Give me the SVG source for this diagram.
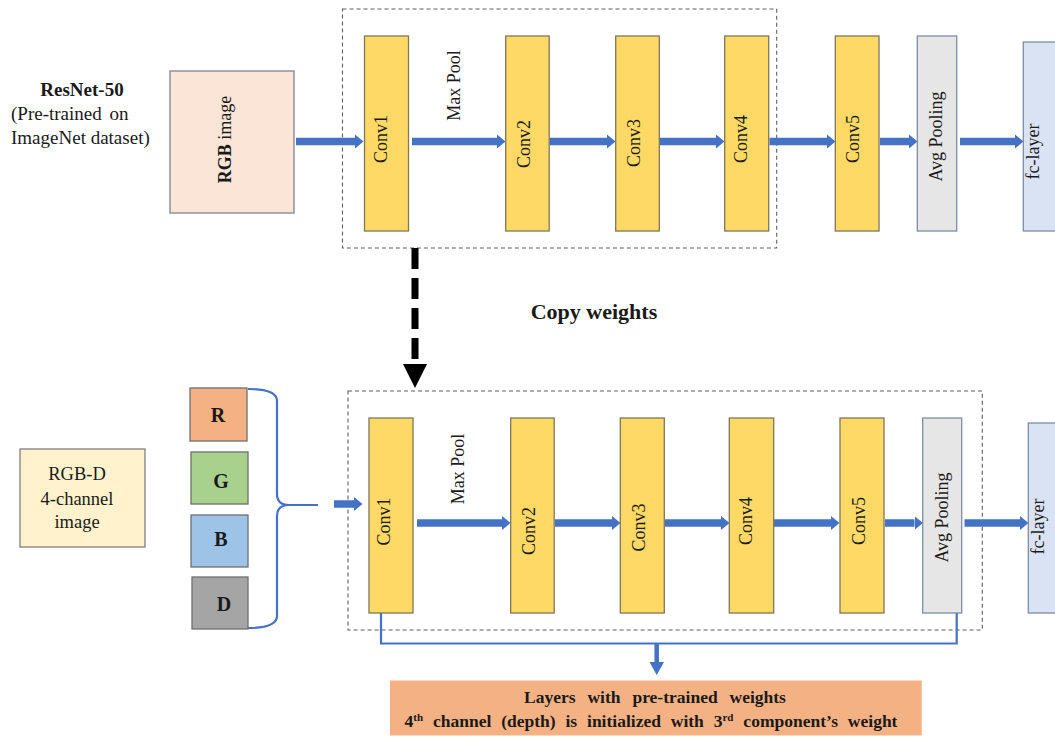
<svg xmlns="http://www.w3.org/2000/svg" width="1055" height="737" viewBox="0 0 1055 737">
<style>
text{font-family:"Liberation Serif","Times New Roman",serif;fill:#1a1a1a}
.lbl{font-size:18px;text-anchor:middle}
.b{font-weight:bold}
.conv{fill:#FFD966;stroke:#7E775A;stroke-width:1.3}
.avg{fill:#E7E6E6;stroke:#7F8CA6;stroke-width:1.3}
.fc{fill:#DAE3F3;stroke:#7F8CA6;stroke-width:1.3}
.grp{fill:none;stroke:#5F5F5F;stroke-width:1.1;stroke-dasharray:4 3}
.flow{stroke:#4472C4;stroke-width:7.5;fill:none;marker-end:url(#ah)}
.thin{stroke:#4472C4;stroke-width:2.2;fill:none}
.ch{stroke:#6F6F6F;stroke-width:1.3}
</style>
<defs>
<marker id="ah" markerUnits="userSpaceOnUse" markerWidth="9" markerHeight="15" refX="0" refY="7" orient="auto" viewBox="0 0 9 14">
<path d="M0,0 L8.5,7 L0,14 z" fill="#4472C4"/>
</marker>
</defs>

<!-- dashed group boxes -->
<rect id="group-top" class="grp" x="342.5" y="9" width="434.2" height="239"/>
<rect id="group-bottom" class="grp" x="348" y="391" width="634.3" height="239"/>

<!-- connectors -->
<g id="connectors">
  <line class="flow" x1="296" y1="141.5" x2="355" y2="141.5"/>
  <line class="flow" x1="412" y1="141.5" x2="497" y2="141.5"/>
  <line class="flow" x1="549.5" y1="141.5" x2="607" y2="141.5"/>
  <line class="flow" x1="660" y1="141.5" x2="716" y2="141.5"/>
  <line class="flow" x1="769.5" y1="141.5" x2="827" y2="141.5"/>
  <line class="flow" x1="880" y1="141.5" x2="909" y2="141.5"/>
  <line class="flow" x1="960" y1="141.5" x2="1015" y2="141.5"/>

  <line class="flow" x1="334" y1="504" x2="354" y2="504"/>
  <line class="flow" x1="417" y1="523" x2="502" y2="523"/>
  <line class="flow" x1="555" y1="523" x2="612" y2="523"/>
  <line class="flow" x1="665" y1="523" x2="721" y2="523"/>
  <line class="flow" x1="774" y1="523" x2="831" y2="523"/>
  <line class="flow" x1="885" y1="523" x2="914.5" y2="523"/>
  <line class="flow" x1="964.5" y1="523" x2="1020" y2="523"/>

  <!-- brace -->
  <path class="thin" stroke-width="2.6" d="M248,389 Q277,389 277,401 L277,494 Q277,505 289,505 Q277,505 277,516 L277,616 Q277,628 248,628 M289,505 L318,505"/>

  <!-- copy weights -->
  <line x1="415" y1="248" x2="415" y2="360" stroke="#000" stroke-width="7" stroke-dasharray="21 9"/>
  <polygon points="403,364 427,364 415,388" fill="#000"/>

  <!-- pretrained bracket -->
  <path class="thin" d="M381,613 L381,643.5 L956.7,643.5 L956.7,613"/>
  <line x1="656.7" y1="643.5" x2="656.7" y2="663" stroke="#4472C4" stroke-width="4.5"/>
  <polygon points="649.5,662 664,662 656.7,675" fill="#4472C4"/>
</g>

<!-- left labels -->
<g id="resnet-label">
  <text class="b" x="82" y="96" font-size="19" text-anchor="middle">ResNet-50</text>
  <text x="11" y="120" font-size="19" word-spacing="3">(Pre-trained on</text>
  <text x="11" y="144" font-size="19">ImageNet dataset)</text>
</g>

<g id="rgb-image">
  <rect x="170" y="71" width="124" height="142" fill="#FBE5D6" stroke="#7F8599" stroke-width="1.3"/>
  <text x="231" y="139.5" font-size="18" text-anchor="middle" transform="rotate(-90 231 139.5)"><tspan font-weight="bold">RGB</tspan> image</text>
</g>

<!-- top row -->
<g id="top-conv1"><rect class="conv" x="364.5" y="36" width="44" height="195"/><text class="lbl" x="387" y="139" transform="rotate(-90 387 139)">Conv1</text></g>
<g id="top-maxpool"><text class="lbl" x="460" y="85.5" transform="rotate(-90 460 85.5)">Max Pool</text></g>
<g id="top-conv2"><rect class="conv" x="505.7" y="36" width="43.5" height="195"/><text class="lbl" x="530" y="144" transform="rotate(-90 530 144)">Conv2</text></g>
<g id="top-conv3"><rect class="conv" x="615.7" y="36" width="43.6" height="195"/><text class="lbl" x="640" y="143" transform="rotate(-90 640 143)">Conv3</text></g>
<g id="top-conv4"><rect class="conv" x="724.7" y="36" width="44" height="195"/><text class="lbl" x="747" y="139" transform="rotate(-90 747 139)">Conv4</text></g>
<g id="top-conv5"><rect class="conv" x="835.3" y="36" width="43.7" height="195"/><text class="lbl" x="859" y="139" transform="rotate(-90 859 139)">Conv5</text></g>
<g id="top-avg"><rect class="avg" x="917.3" y="36" width="39.4" height="195"/><text class="lbl" x="942" y="136.5" fill="#333" transform="rotate(-90 942 136.5)">Avg Pooling</text></g>
<g id="top-fc"><rect class="fc" x="1023.3" y="42" width="44" height="189"/><text class="lbl" x="1039" y="151.5" transform="rotate(-90 1039 151.5)">fc-layer</text></g>

<g id="copy-weights-label"><text class="b" x="594" y="319" font-size="22" text-anchor="middle">Copy weights</text></g>

<!-- bottom left -->
<g id="rgbd-image">
  <rect x="20" y="449" width="125" height="98" fill="#FFF2CC" stroke="#7F7F7F" stroke-width="1.3"/>
  <text x="77" y="480" font-size="18.5" text-anchor="middle">RGB-D</text>
  <text x="77" y="505" font-size="18.5" text-anchor="middle">4-channel</text>
  <text x="77" y="528" font-size="18.5" text-anchor="middle">image</text>
</g>
<g id="ch-r"><rect class="ch" x="190" y="388" width="57" height="53" fill="#F4B183"/><text class="b" x="218" y="422" font-size="20" text-anchor="middle">R</text></g>
<g id="ch-g"><rect class="ch" x="191" y="452" width="57" height="52" fill="#A9D18E"/><text class="b" x="221" y="488" font-size="20" text-anchor="middle">G</text></g>
<g id="ch-b"><rect class="ch" x="191" y="515" width="57" height="52" fill="#9DC3E6"/><text class="b" x="221" y="546" font-size="20" text-anchor="middle">B</text></g>
<g id="ch-d"><rect class="ch" x="192" y="577" width="56" height="52" fill="#A5A5A5"/><text class="b" x="224" y="611" font-size="20" text-anchor="middle">D</text></g>

<!-- bottom row -->
<g id="bot-conv1"><rect class="conv" x="369" y="418" width="44" height="195"/><text class="lbl" x="390" y="521.5" transform="rotate(-90 390 521.5)">Conv1</text></g>
<g id="bot-maxpool"><text class="lbl" x="464" y="469" transform="rotate(-90 464 469)">Max Pool</text></g>
<g id="bot-conv2"><rect class="conv" x="510.7" y="418" width="43.5" height="195"/><text class="lbl" x="535" y="531" transform="rotate(-90 535 531)">Conv2</text></g>
<g id="bot-conv3"><rect class="conv" x="620.3" y="418" width="44" height="195"/><text class="lbl" x="645" y="527.5" transform="rotate(-90 645 527.5)">Conv3</text></g>
<g id="bot-conv4"><rect class="conv" x="729.3" y="418" width="44.4" height="195"/><text class="lbl" x="751.5" y="521" transform="rotate(-90 751.5 521)">Conv4</text></g>
<g id="bot-conv5"><rect class="conv" x="840" y="418" width="44" height="195"/><text class="lbl" x="865" y="521" transform="rotate(-90 865 521)">Conv5</text></g>
<g id="bot-avg"><rect class="avg" x="922.7" y="418" width="39" height="195"/><text class="lbl" x="948" y="517.5" fill="#333" transform="rotate(-90 948 517.5)">Avg Pooling</text></g>
<g id="bot-fc"><rect class="fc" x="1028.3" y="423" width="44" height="190"/><text class="lbl" x="1044" y="526.5" transform="rotate(-90 1044 526.5)">fc-layer</text></g>

<!-- result box -->
<g id="pretrained-note">
  <rect x="390" y="680.5" width="531.7" height="55" fill="#F4B183"/>
  <text class="b" x="655" y="703" font-size="17.5" text-anchor="middle" word-spacing="7.5">Layers with pre-trained weights</text>
  <text class="b" x="651" y="727" font-size="17.5" text-anchor="middle" word-spacing="5.5">4<tspan dy="-6" font-size="11">th</tspan><tspan dy="6"> channel (depth) is initialized with 3</tspan><tspan dy="-6" font-size="11">rd</tspan><tspan dy="6"> component’s weight</tspan></text>
</g>
</svg>
